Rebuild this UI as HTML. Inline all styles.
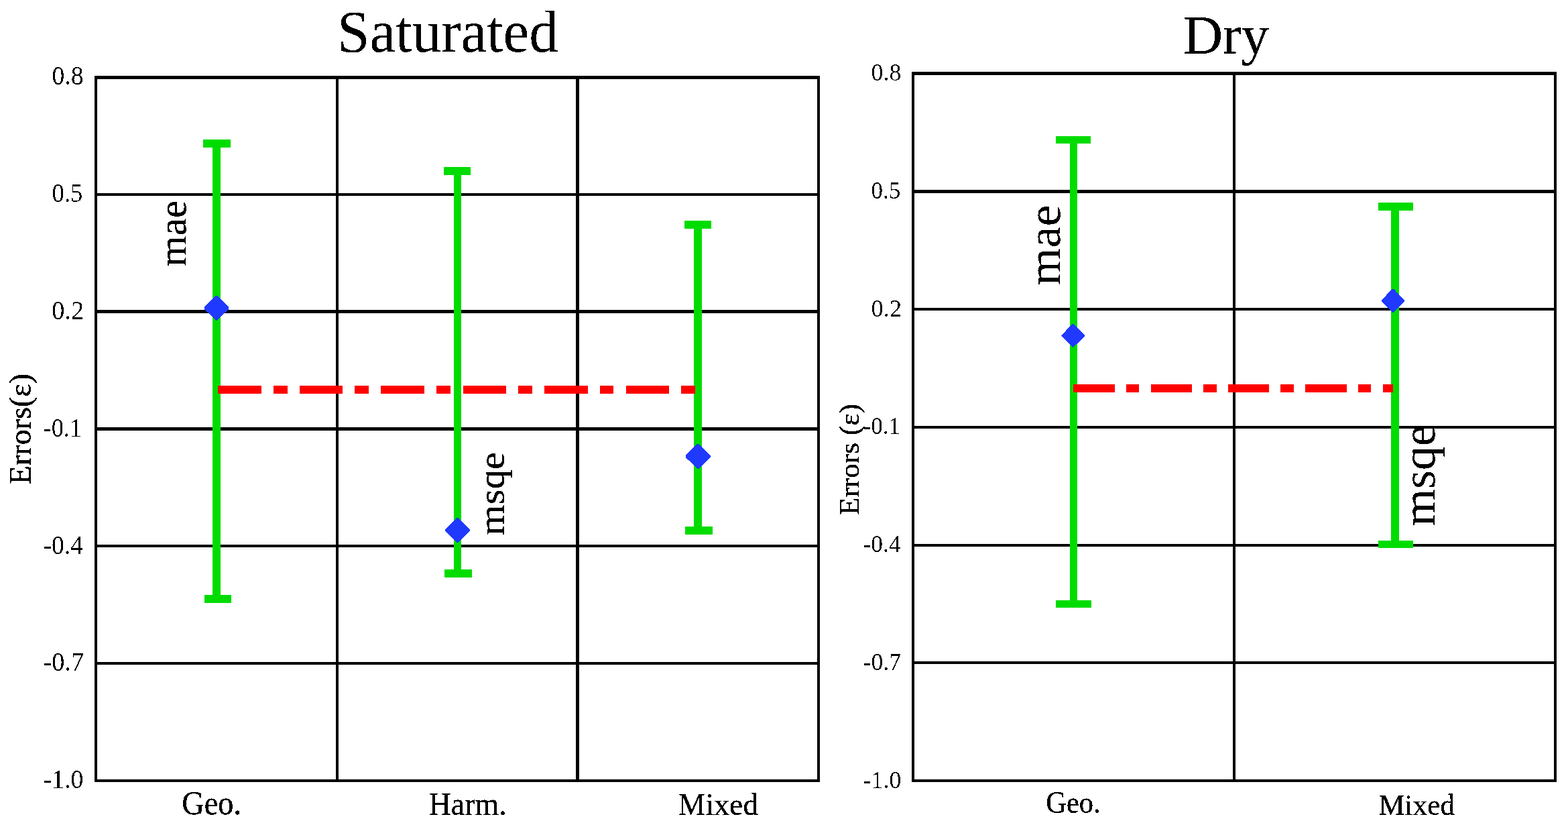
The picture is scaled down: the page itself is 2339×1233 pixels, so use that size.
<!DOCTYPE html>
<html lang="en">
<head>
<meta charset="utf-8">
<title>Saturated / Dry errors</title>
<style>
html,body{margin:0;padding:0;background:#fff;}
body{width:2339px;height:1233px;overflow:hidden;font-family:"Liberation Serif",serif;}
svg{display:block;}
</style>
</head>
<body>
<svg width="2339" height="1233" viewBox="0 0 2339 1233" shape-rendering="crispEdges">
<defs>
<filter id="crisp-bold" x="-20%" y="-40%" width="140%" height="180%" color-interpolation-filters="sRGB"><feComponentTransfer><feFuncA type="discrete" tableValues="0 0 0 0 0 0 0 0 1 1 1 1 1 1 1 1 1 1 1 1"/></feComponentTransfer></filter>
<filter id="crisp-mid" x="-20%" y="-40%" width="140%" height="180%" color-interpolation-filters="sRGB"><feComponentTransfer><feFuncA type="discrete" tableValues="0 0 0 0 0 0 0 0 0 0 1 1 1 1 1 1 1 1 1 1"/></feComponentTransfer></filter>
<filter id="crisp-thin" x="-20%" y="-40%" width="140%" height="180%" color-interpolation-filters="sRGB"><feComponentTransfer><feFuncA type="discrete" tableValues="0 0 0 0 0 0 0 0 0 0 0 1 1 1 1 1 1 1 1 1"/></feComponentTransfer></filter>
</defs>
<rect x="0" y="0" width="2339" height="1233" fill="#fff"/>
<g id="grid">
<rect x="141" y="113" width="1082" height="5" fill="#000"/>
<rect x="141" y="288" width="1082" height="4" fill="#000"/>
<rect x="141" y="462" width="1082" height="5" fill="#000"/>
<rect x="141" y="637" width="1082" height="5" fill="#000"/>
<rect x="141" y="812" width="1082" height="4" fill="#000"/>
<rect x="141" y="987" width="1082" height="4" fill="#000"/>
<rect x="141" y="1162" width="1082" height="4" fill="#000"/>
<rect x="141" y="113" width="4" height="1053" fill="#000"/>
<rect x="501" y="113" width="4" height="1053" fill="#000"/>
<rect x="859" y="113" width="5" height="1053" fill="#000"/>
<rect x="1219" y="113" width="4" height="1053" fill="#000"/>
<rect x="1360" y="107" width="962" height="5" fill="#000"/>
<rect x="1360" y="283" width="962" height="5" fill="#000"/>
<rect x="1360" y="459" width="962" height="4" fill="#000"/>
<rect x="1360" y="635" width="962" height="4" fill="#000"/>
<rect x="1360" y="811" width="962" height="4" fill="#000"/>
<rect x="1360" y="986" width="962" height="4" fill="#000"/>
<rect x="1360" y="1162" width="962" height="4" fill="#000"/>
<rect x="1360" y="107" width="4" height="1059" fill="#000"/>
<rect x="1839" y="107" width="4" height="1059" fill="#000"/>
<rect x="2318" y="107" width="4" height="1059" fill="#000"/>
</g>
<g id="errorbars">
<rect x="317" y="208" width="12" height="691" fill="#00dc00"/>
<rect x="303" y="208" width="41" height="12" fill="#00dc00"/>
<rect x="305" y="887" width="40" height="12" fill="#00dc00"/>
<rect x="677" y="249" width="11" height="612" fill="#00dc00"/>
<rect x="662" y="249" width="40" height="12" fill="#00dc00"/>
<rect x="663" y="849" width="41" height="12" fill="#00dc00"/>
<rect x="1035" y="329" width="12" height="468" fill="#00dc00"/>
<rect x="1021" y="329" width="40" height="12" fill="#00dc00"/>
<rect x="1022" y="785" width="41" height="12" fill="#00dc00"/>
<rect x="1596" y="203" width="11" height="703" fill="#00dc00"/>
<rect x="1575" y="203" width="52" height="11" fill="#00dc00"/>
<rect x="1575" y="895" width="53" height="11" fill="#00dc00"/>
<rect x="2075" y="302" width="12" height="515" fill="#00dc00"/>
<rect x="2056" y="302" width="52" height="12" fill="#00dc00"/>
<rect x="2056" y="806" width="52" height="11" fill="#00dc00"/>
</g>
<g id="zero-lines">
<rect x="325" y="575" width="65" height="12" fill="#ff0000"/>
<rect x="408" y="575" width="21" height="12" fill="#ff0000"/>
<rect x="447" y="575" width="64" height="12" fill="#ff0000"/>
<rect x="529" y="575" width="21" height="12" fill="#ff0000"/>
<rect x="568" y="575" width="65" height="12" fill="#ff0000"/>
<rect x="651" y="575" width="21" height="12" fill="#ff0000"/>
<rect x="691" y="575" width="64" height="12" fill="#ff0000"/>
<rect x="773" y="575" width="21" height="12" fill="#ff0000"/>
<rect x="812" y="575" width="65" height="12" fill="#ff0000"/>
<rect x="895" y="575" width="20" height="12" fill="#ff0000"/>
<rect x="934" y="575" width="64" height="12" fill="#ff0000"/>
<rect x="1016" y="575" width="21" height="12" fill="#ff0000"/>
<rect x="1601" y="573" width="62" height="12" fill="#ff0000"/>
<rect x="1680" y="573" width="19" height="12" fill="#ff0000"/>
<rect x="1717" y="573" width="61" height="12" fill="#ff0000"/>
<rect x="1795" y="573" width="20" height="12" fill="#ff0000"/>
<rect x="1832" y="573" width="61" height="12" fill="#ff0000"/>
<rect x="1910" y="573" width="20" height="12" fill="#ff0000"/>
<rect x="1947" y="573" width="62" height="12" fill="#ff0000"/>
<rect x="2026" y="573" width="19" height="12" fill="#ff0000"/>
<rect x="2063" y="573" width="15" height="12" fill="#ff0000"/>
</g>
<g id="markers">
<polygon points="321.5,441 324.5,441 341,457.75 341,461.25 323.3,478 322.7,478 305,461.25 305,457.75" fill="#2039ff"/>
<polygon points="681.5,772 683.5,772 701,789.25 701,791.75 683.5,809 681.5,809 664,791.75 664,789.25" fill="#2039ff"/>
<polygon points="1040,662 1043,662 1060,680 1060,681 1042,699 1041,699 1023,682.25 1023,678.75" fill="#2039ff"/>
<polygon points="1599.75,483 1601.25,483 1618,499.5 1618,501.5 1600.8,518 1600.2,518 1583,500.8 1583,500.2" fill="#2039ff"/>
<polygon points="2076.75,431 2079.25,431 2095,448 2095,449 2078.3,466 2077.7,466 2061,449.75 2061,447.25" fill="#2039ff"/>
</g>
<g id="labels" font-family="'Liberation Serif', serif" font-size="100" fill="#000" stroke="#000" stroke-linejoin="round">
<text filter="url(#crisp-mid)" transform="matrix(0.87378 0 0 0.88929 502.970 76.861)" stroke-width="0.000">Saturated</text>
<text filter="url(#crisp-bold)" transform="matrix(0.82697 0 0 0.82659 1764.419 80.042)" stroke-width="0.000">Dry</text>
<text filter="url(#crisp-thin)" transform="matrix(0.37650 0 0 0.40147 77.544 125.998)" stroke-width="0.000">0.8</text>
<text filter="url(#crisp-thin)" transform="matrix(0.36667 0 0 0.40221 77.583 300.997)" stroke-width="0.000">0.5</text>
<text filter="url(#crisp-thin)" transform="matrix(0.38355 0 0 0.40221 77.266 475.997)" stroke-width="0.000">0.2</text>
<text filter="url(#crisp-thin)" transform="matrix(0.36397 0 0 0.40221 64.526 650.997)" stroke-width="0.000">-0.1</text>
<text filter="url(#crisp-thin)" transform="matrix(0.37451 0 0 0.40221 64.489 825.997)" stroke-width="0.000">-0.4</text>
<text filter="url(#crisp-thin)" transform="matrix(0.38289 0 0 0.39853 64.460 999.902)" stroke-width="0.000">-0.7</text>
<text filter="url(#crisp-thin)" transform="matrix(0.37781 0 0 0.39853 64.478 1174.902)" stroke-width="0.000">-1.0</text>
<text filter="url(#crisp-thin)" transform="matrix(0.35983 0 0 0.36029 1299.561 119.960)" stroke-width="0.000">0.8</text>
<text filter="url(#crisp-thin)" transform="matrix(0.35000 0 0 0.36176 1299.600 295.957)" stroke-width="0.000">0.5</text>
<text filter="url(#crisp-thin)" transform="matrix(0.36450 0 0 0.35809 1299.542 471.813)" stroke-width="0.000">0.2</text>
<text filter="url(#crisp-thin)" transform="matrix(0.35084 0 0 0.35809 1287.522 646.813)" stroke-width="0.000">-0.1</text>
<text filter="url(#crisp-thin)" transform="matrix(0.35523 0 0 0.36324 1287.507 822.955)" stroke-width="0.000">-0.4</text>
<text filter="url(#crisp-thin)" transform="matrix(0.35757 0 0 0.35515 1287.499 998.967)" stroke-width="0.000">-0.7</text>
<text filter="url(#crisp-thin)" transform="matrix(0.35993 0 0 0.36176 1287.490 1174.957)" stroke-width="0.000">-1.0</text>
<text filter="url(#crisp-bold)" transform="matrix(0 -0.46168 0.45444 0 45.657 722.385)" stroke-width="0.437">Errors(ε)</text>
<text filter="url(#crisp-bold)" transform="matrix(0 -0.43285 0.42056 0 1281.168 768.049)" stroke-width="0.469">Errors (ε)</text>
<text filter="url(#crisp-bold)" transform="matrix(0 -0.58944 0.59583 0 277.354 397.129)" stroke-width="0.000">mae</text>
<text filter="url(#crisp-bold)" transform="matrix(0 -0.58808 0.55072 0 751.635 798.126)" stroke-width="0.000">msqe</text>
<text filter="url(#crisp-mid)" transform="matrix(0 -0.72267 0.70000 0 1581.450 425.645)" stroke-width="0.000">mae</text>
<text filter="url(#crisp-mid)" transform="matrix(0 -0.71630 0.69928 0 2140.315 784.633)" stroke-width="0.000">msqe</text>
<text filter="url(#crisp-bold)" transform="matrix(0.46354 0 0 0.50667 271.196 1213.990)" stroke-width="0.309">Geo.</text>
<text filter="url(#crisp-bold)" transform="matrix(0.45947 0 0 0.48134 639.672 1214.778)" stroke-width="0.319">Harm.</text>
<text filter="url(#crisp-bold)" transform="matrix(0.45837 0 0 0.46714 1011.675 1214.783)" stroke-width="0.324">Mixed</text>
<text filter="url(#crisp-bold)" transform="matrix(0.42486 0 0 0.46889 1560.201 1211.897)" stroke-width="0.336">Geo.</text>
<text filter="url(#crisp-bold)" transform="matrix(0.43444 0 0 0.44357 2056.747 1214.806)" stroke-width="0.342">Mixed</text>
</g>
</svg>
</body>
</html>
